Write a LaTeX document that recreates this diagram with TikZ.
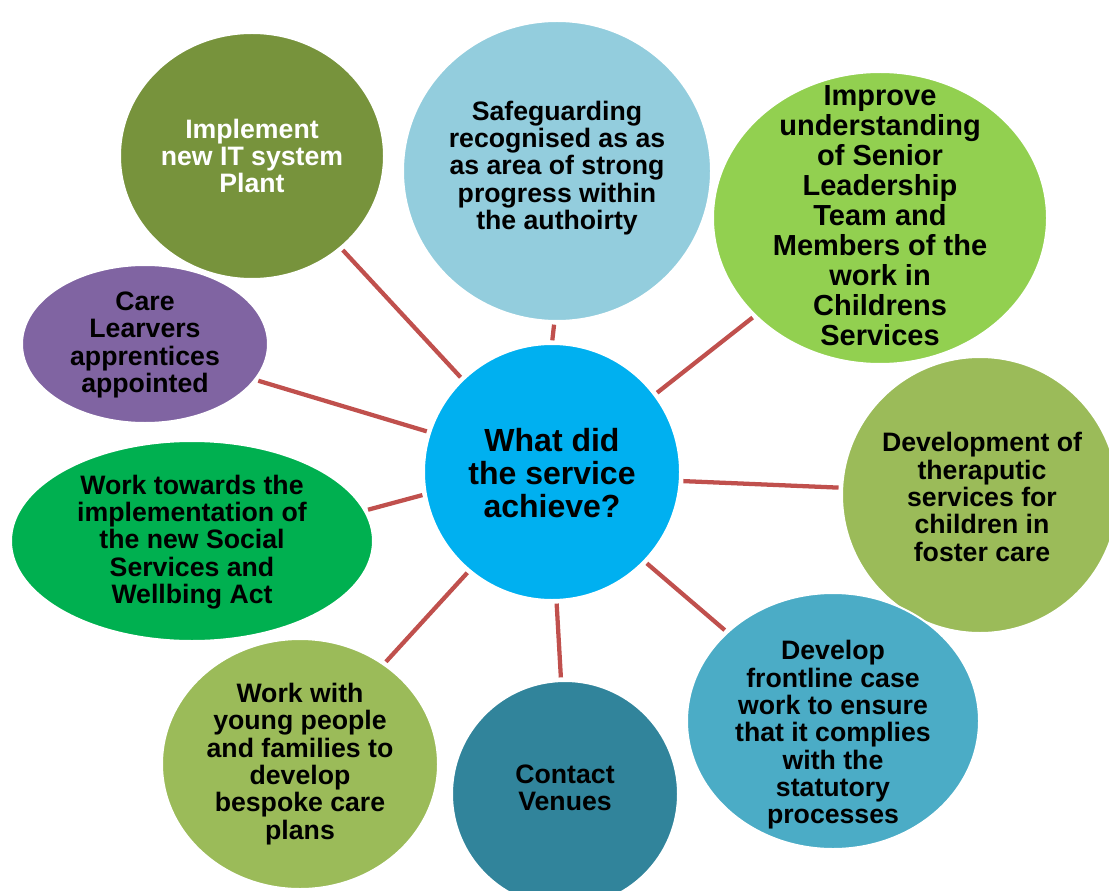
\documentclass[tikz,border=0pt]{standalone}
\usepackage{fontspec}
\setmainfont{Liberation Sans}
\usetikzlibrary{shapes.geometric}
\definecolor{cIT}{HTML}{77933C}
\definecolor{cSafe}{HTML}{93CDDD}
\definecolor{cImp}{HTML}{92D050}
\definecolor{cDev}{HTML}{9BBB59}
\definecolor{cFront}{HTML}{4BACC6}
\definecolor{cContact}{HTML}{31849B}
\definecolor{cYoung}{HTML}{9BBB59}
\definecolor{cTowards}{HTML}{00B050}
\definecolor{cCare}{HTML}{8064A2}
\definecolor{cCtr}{HTML}{00B0F0}
\definecolor{linkred}{HTML}{C0504D}
\begin{document}
\begin{tikzpicture}[x=0.75pt,y=-0.75pt,
  blob/.style={ellipse, draw=white, line width=1.5pt, inner sep=0pt},
  txt/.style={align=center, font=\bfseries\fontsize{20}{20.5}\selectfont, inner sep=0pt},
  link/.style={draw=linkred, line width=3.2pt, shorten <=2pt, shorten >=2pt}]
\useasboundingbox (0,0) rectangle (1109,891);
% ellipses (clockwise from top, later on top)
\node[blob, fill=cSafe, minimum width=231pt, minimum height=225pt] (safe) at (557,171) {};
\node[blob, fill=cImp, minimum width=250.5pt, minimum height=219pt] (imp) at (880,218) {};
\node[blob, fill=cDev, minimum width=207pt, minimum height=207pt] (dev) at (980,495) {};
\node[blob, fill=cFront, minimum width=219pt, minimum height=192pt] (front) at (833,721) {};
\node[blob, fill=cContact, minimum width=169.5pt, minimum height=169.5pt] (contact) at (565,794) {};
\node[blob, fill=cYoung, minimum width=207pt, minimum height=187.5pt] (young) at (300,764) {};
\node[blob, fill=cTowards, minimum width=271.5pt, minimum height=150pt] (towards) at (192,541) {};
\node[blob, fill=cCare, minimum width=184.5pt, minimum height=118.5pt] (care) at (145,344) {};
\node[blob, fill=cIT, minimum width=198pt, minimum height=184.5pt] (it) at (252,156) {};
\node[blob, fill=cCtr, minimum width=192pt, minimum height=192pt] (ctr) at (552,472) {};
% connectors
\draw[link] (ctr.134) -- (it.-46);
\draw[link] (ctr.90) -- (safe.-91);
\draw[link] (ctr.37) -- (imp.218);
\draw[link] (ctr.-4) -- (dev.177);
\draw[link] (ctr.-44) -- (front.140);
\draw[link] (ctr.-88) -- (contact.92);
\draw[link] (ctr.-130) -- (young.50);
\draw[link] (ctr.190) -- (towards.10);
\draw[link] (ctr.162) -- (care.-18);
% texts
\node[txt, text=white] (tit) at (252,156) {Implement\\new IT system\\Plant};
\node[txt] (tsafe) at (557,168) {Safeguarding\\recognised as as\\as area of strong\\progress within\\the authoirty};
\node[txt, font=\bfseries\fontsize{21.75}{22.5}\selectfont] (timp) at (880,216) {Improve\\understanding\\of Senior\\Leadership\\Team and\\Members of the\\work in\\Childrens\\Services};
\node[txt] (tdev) at (982,497) {Development of\\theraputic\\services for\\children in\\foster care};
\node[txt] (tfront) at (833,735) {Develop\\frontline case\\work to ensure\\that it complies\\with the\\statutory\\processes};
\node[txt] (tcontact) at (565,788) {Contact\\Venues};
\node[txt] (tyoung) at (300,764) {Work with\\young people\\and families to\\develop\\bespoke care\\plans};
\node[txt] (ttowards) at (192,542) {Work towards the\\implementation of\\the new Social\\Services and\\Wellbing Act};
\node[txt] (tcare) at (145,345) {Care\\Learvers\\apprentices\\appointed};
\node[txt, font=\bfseries\fontsize{24}{24.75}\selectfont] (tctr) at (552,473) {What did\\the service\\achieve?};
\end{tikzpicture}
\end{document}
